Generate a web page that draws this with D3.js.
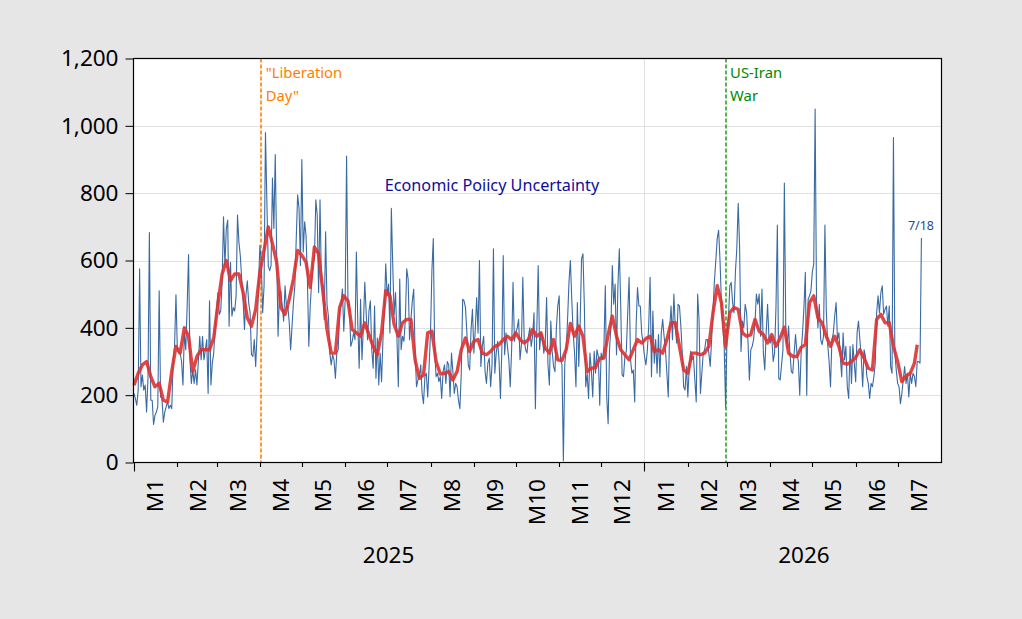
<!DOCTYPE html>
<html><head><meta charset="utf-8">
<script src="https://cdn.jsdelivr.net/npm/d3@7"></script>
<style>
body{margin:0;background:#e6e6e6;}
svg{display:block;font-family:"Noto Sans","Open Sans",sans-serif;}
</style>
</head><body>
<svg id="chart" width="1022" height="619"></svg>
<script>
// ---------- data ----------
const startDate = new Date(2025, 0, 1);
const endDate = new Date(2026, 7, 1);

// daily Economic Policy Uncertainty, 2025-01-01 .. 2026-07-18
const epuDaily = [
205,190,170,215,575,225,260,215,230,150,
250,683,185,185,113,140,150,165,510,195,
190,120,150,165,180,160,170,160,305,345,
498,335,325,325,300,230,385,335,465,618,
305,235,275,235,275,230,300,375,305,375,
305,335,365,205,480,230,295,325,400,455,
505,440,450,535,730,585,695,720,405,595,
435,460,450,495,735,655,615,545,480,395,
495,540,475,445,320,315,365,285,385,525,
645,595,445,525,980,775,585,570,585,845,
695,915,625,375,505,510,465,420,525,460,
465,415,335,405,475,525,665,795,755,585,
900,625,715,675,540,345,465,535,595,605,
780,735,505,780,535,525,425,685,470,435,
325,290,320,305,250,325,335,445,470,515,
390,485,910,465,470,345,360,385,365,625,
415,280,485,305,405,535,445,365,450,480,
335,280,465,250,370,230,325,240,365,455,
590,495,530,385,755,585,440,505,370,225,
545,335,375,360,425,575,545,365,425,480,
515,325,225,245,255,290,205,175,255,265,
195,285,385,570,665,325,255,265,240,255,
190,270,290,235,300,290,195,325,270,205,
235,225,185,160,265,485,480,460,385,290,
275,395,455,325,395,490,385,600,285,345,
375,270,235,295,310,225,290,635,265,325,
360,305,190,335,615,320,385,345,305,225,
335,535,360,385,400,425,305,350,550,365,
335,325,375,400,345,375,445,160,395,585,
335,385,375,325,350,490,290,230,420,330,
285,270,400,465,495,305,290,5,295,335,
425,535,600,485,385,325,225,475,285,415,
605,620,465,225,265,190,325,275,195,330,
265,335,315,170,325,305,345,525,195,115,
335,405,585,470,530,320,525,635,465,260,
255,315,330,445,550,305,265,275,180,405,
520,465,465,385,355,315,290,330,405,550,
255,450,295,365,265,380,255,385,425,375,
335,265,195,395,465,365,500,405,355,470,
465,405,325,225,215,285,195,285,330,305,
315,245,180,500,425,205,265,325,335,365,
365,325,285,365,455,540,600,665,690,600,
475,405,340,165,375,425,525,535,475,445,
565,635,770,640,330,420,400,470,445,360,
245,335,345,365,415,500,470,500,375,515,
325,275,385,470,370,355,375,300,325,460,
705,250,245,290,335,830,405,340,405,325,
270,265,325,380,325,300,200,325,385,460,
565,200,485,495,510,565,590,1050,480,400,
470,365,350,375,705,450,350,300,225,365,
385,435,475,365,385,315,255,385,305,345,
225,190,345,235,350,295,240,385,420,365,
310,225,335,315,255,235,190,235,225,255,
295,445,495,445,505,525,440,455,465,405,
465,285,265,965,325,275,235,225,175,205,
245,285,235,265,195,265,235,265,255,225,
300,300,295,667
];

// moving average (red), read every 3rd day from 2025-01-01
const maStepDays = 3;
const maValues = [
230,265,290,300,255,225,235,185,180,270,
345,325,400,375,270,315,335,335,335,370,
470,560,600,540,560,560,505,430,405,455,
565,630,700,650,595,460,440,485,545,630,
615,595,520,640,620,510,395,325,325,
460,495,480,395,385,375,415,380,345,320,
385,510,495,410,375,415,425,425,305,250,
260,385,390,300,263,265,270,245,270,335,
370,330,360,365,325,320,330,345,350,365,
375,365,385,365,355,365,395,375,
385,340,325,365,305,303,335,413,375,405,
375,270,280,282,310,310,380,435,375,335,
320,305,335,365,355,368,375,330,335,325,
365,415,415,345,275,265,325,325,320,325,
345,445,525,475,345,445,460,455,
385,375,380,425,390,380,355,380,345,370,
402,325,315,315,342,350,475,495,430,415,
375,345,375,345,295,292,300,312,335,310,
280,275,425,440,415,415,345,300,240,257,
265,295
];
const maLastDay = 560;
const maLastValue = 350;

const yTicks = [0, 200, 400, 600, 800, 1000, 1200];
const monthLabels = ["M1","M2","M3","M4","M5","M6","M7","M8","M9","M10","M11","M12",
                     "M1","M2","M3","M4","M5","M6","M7"];
const yearLabels = ["2025", "2026"];
const yearLabelDates = [new Date(2025, 6, 2), new Date(2026, 3, 25)];
const eventDates = [new Date(2025, 3, 2), new Date(2026, 1, 28)];
const eventLines = [['"Liberation', 'Day"'], ['US-Iran', 'War']];
const eventColors = ["#ff8000", "#008a00"];
const seriesLabel = "Economic Poiicy Uncertainty";
const endLabel = "7/18";

// ---------- chart ----------
const svg = d3.select("#chart");
const L = 134, R = 941, T = 58.5, B = 462.5;

const x = d3.scaleTime().domain([startDate, endDate]).range([L, R]);
const y = d3.scaleLinear().domain([0, 1200]).range([B, T]);

svg.append("rect").attr("x", L).attr("y", T).attr("width", R - L).attr("height", B - T)
  .attr("fill", "#ffffff");

// horizontal grid
svg.append("g").selectAll("line").data(yTicks.filter(v => v > 0 && v < 1200)).join("line")
  .attr("x1", L).attr("x2", R)
  .attr("y1", d => Math.round(y(d)) + 0.5).attr("y2", d => Math.round(y(d)) + 0.5)
  .attr("stroke", "#e1e1e1").attr("stroke-width", 1);

// vertical grid at year boundary
const yearStarts = [new Date(2026, 0, 1)];
svg.append("g").selectAll("line").data(yearStarts).join("line")
  .attr("x1", d => Math.round(x(d)) + 0.5).attr("x2", d => Math.round(x(d)) + 0.5)
  .attr("y1", T).attr("y2", B)
  .attr("stroke", "#e1e1e1").attr("stroke-width", 1);

// event lines
const evG = svg.append("g");
eventDates.forEach((d, i) => {
  evG.append("line")
    .attr("x1", Math.round(x(d))).attr("x2", Math.round(x(d)))
    .attr("y1", T).attr("y2", B)
    .attr("stroke", eventColors[i]).attr("stroke-width", i === 0 ? 1.6 : 1.3)
    .attr("stroke-dasharray", "4,2");
});

// series
const blueLine = d3.line()
  .x((d, i) => x(d3.timeDay.offset(startDate, i)))
  .y(d => y(d));
svg.append("path").datum(epuDaily).attr("d", blueLine)
  .attr("fill", "none").attr("stroke", "#3a6aa3").attr("stroke-width", 1.1)
  .attr("stroke-linejoin", "round");

const maPoints = maValues.map((v, i) => ({day: i * maStepDays, v}));
maPoints.push({day: maLastDay, v: maLastValue});
const redLine = d3.line()
  .x(d => x(d3.timeDay.offset(startDate, d.day)))
  .y(d => y(d.v));
svg.append("path").datum(maPoints).attr("d", redLine)
  .attr("fill", "none").attr("stroke", "#dc3232").attr("stroke-width", 3.4)
  .attr("stroke-opacity", 0.9).attr("stroke-linejoin", "round");

// frame
svg.append("rect").attr("x", L - 0.5).attr("y", T).attr("width", R - L + 1).attr("height", B - T)
  .attr("fill", "none").attr("stroke", "#000").attr("stroke-width", 1.2);

// y axis
const yAxis = d3.axisLeft(y).tickValues(yTicks).tickFormat(d3.format(",")).tickSize(8).tickPadding(7);
const gy = svg.append("g").attr("transform", `translate(${L - 0.5},0)`).call(yAxis);
gy.select(".domain").remove();
gy.selectAll("text").attr("font-size", 22.5).attr("fill", "#000")
  .attr("font-family", '"Noto Sans","Open Sans",sans-serif');
gy.selectAll("line").attr("stroke", "#000");

// x axis ticks
const months = d3.timeMonth.range(startDate, endDate);
svg.append("g").selectAll("line").data(months).join("line")
  .attr("x1", d => Math.round(x(d)) + 0.5).attr("x2", d => Math.round(x(d)) + 0.5)
  .attr("y1", B).attr("y2", d => B + (d.getMonth() === 0 ? 9 : 4.5))
  .attr("stroke", "#000").attr("stroke-width", 1.1);

// month labels
svg.append("g").selectAll("text").data(months).join("text")
  .attr("transform", d => {
    const mid = new Date(d.getFullYear(), d.getMonth(), 16);
    return `translate(${x(mid)},479) rotate(-90)`;
  })
  .attr("text-anchor", "end").attr("dy", "0.36em")
  .attr("font-size", 22.5).attr("fill", "#000")
  .text((d, i) => monthLabels[i]);

// year labels
svg.append("g").selectAll("text").data(yearLabels).join("text")
  .attr("x", (d, i) => x(yearLabelDates[i])).attr("y", 563)
  .attr("text-anchor", "middle").attr("font-size", 22.5).attr("fill", "#000")
  .text(d => d);

// event annotations
eventDates.forEach((d, i) => {
  const g = svg.append("g");
  eventLines[i].forEach((t, j) => {
    g.append("text").attr("x", x(d) + 4.5).attr("y", 78 + j * 23)
      .attr("font-size", 14.8).attr("fill", eventColors[i]).text(t);
  });
});

// series label
svg.append("text").attr("x", 492).attr("y", 191).attr("text-anchor", "middle")
  .attr("font-size", 16.2).attr("fill", "#0d0d9c").text(seriesLabel);

// end label
svg.append("text").attr("x", 934).attr("y", 230).attr("text-anchor", "end")
  .attr("font-size", 12.5).attr("fill", "#1f4e8c").text(endLabel);
</script>
</body></html>
